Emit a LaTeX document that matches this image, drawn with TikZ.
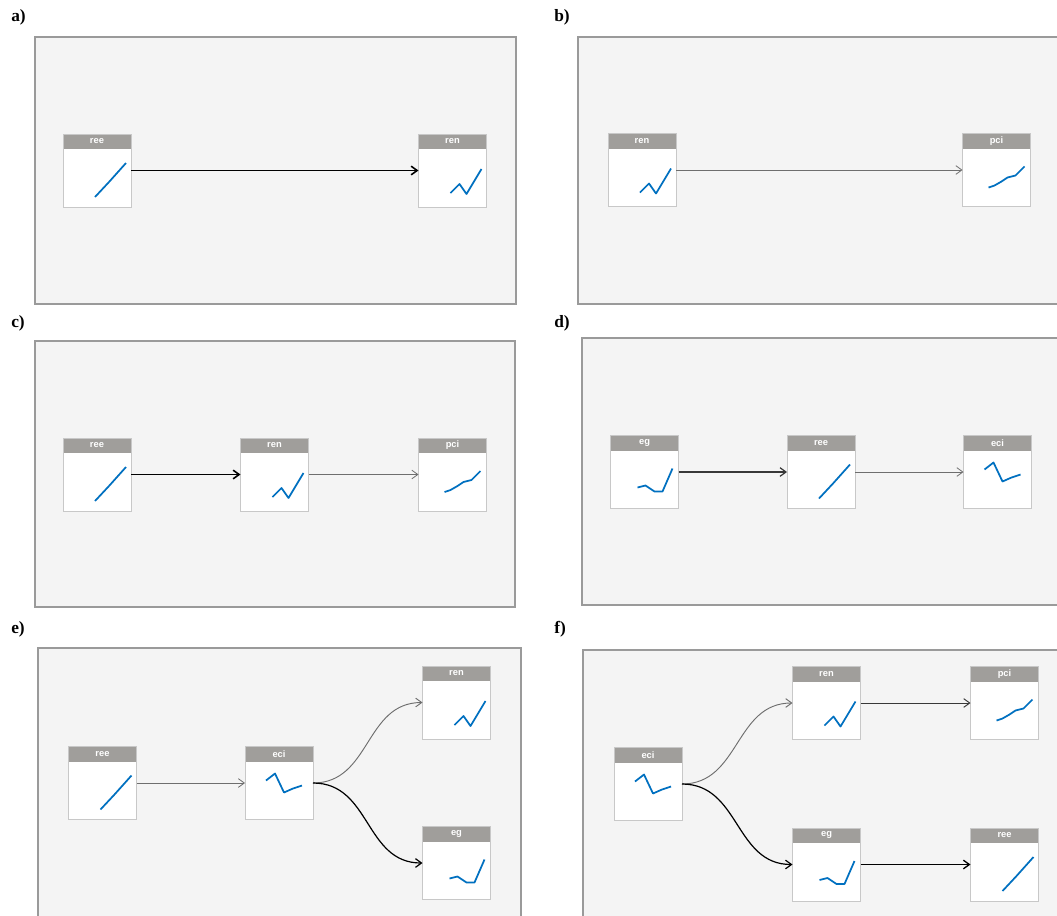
\documentclass[tikz,border=0pt]{standalone}
\usepackage{fontspec}
\setmainfont{Liberation Serif}
\newfontfamily\hdrfont{Liberation Sans}
\usetikzlibrary{arrows.meta}
\definecolor{panelbg}{HTML}{F4F4F4}
\definecolor{panelln}{HTML}{9A9A9A}
\definecolor{hdrgray}{HTML}{A09E9B}
\definecolor{boxln}{HTML}{C8C8C8}
\definecolor{sparkblue}{HTML}{0070C0}
\definecolor{lightarr}{HTML}{6E6E6E}
\definecolor{darkarr}{HTML}{383838}
\tikzset{
  panel/.style={fill=panelbg,draw=panelln,line width=0.8pt},
  plabel/.style={anchor=west,inner sep=0pt,font=\bfseries\fontsize{13}{14}\selectfont},
  vbox/.style={rectangle,fill=white,draw=none,minimum width=51pt,minimum height=54.75pt,inner sep=0pt,outer sep=0pt},
  hdrtxt/.style={inner sep=0pt,text=white,font=\hdrfont\bfseries\fontsize{7}{8}\selectfont},
  spark/.style={draw=sparkblue,line width=1.3pt,line join=round},
  tip/.style={-{Straight Barb[length=4.5pt,width=6.5pt]}},
  lightedge/.style={tip,draw=lightarr,line width=0.6pt},
  darkedge/.style={tip,draw=darkarr,line width=0.7pt},
  boldedge/.style={tip,draw=black,line width=1.2pt},
  sree/.pic={\draw[spark] (32,63)--(46,48)--(63,29);},
  sren/.pic={\draw[spark] (32,59)--(41,50)--(48,60)--(63,35);},
  spci/.pic={\draw[spark] (26,54)--(32,52)--(39,48)--(45,44)--(53,42)--(62,33);},
  seg/.pic={\draw[spark] (27,52)--(35,50)--(44,56)--(52,56)--(62,33);},
  seci/.pic={\draw[spark] (21,34)--(30,27)--(39,46)--(48,42)--(57,39);},
}
\newcommand\vnode[5]{%
  \node[vbox] (#1) at (#2,#3) {};
  \fill[hdrgray] (#1.north west) rectangle ([yshift=-11.25pt]#1.north east);
  \node[hdrtxt] at ([yshift=-5.4pt]#1.north) {#4};
  \draw[boxln,line width=0.7pt] (#1.north west) rectangle (#1.south east);
  \pic at (#1.north west) {#5};
}
\begin{document}
\begin{tikzpicture}[x=0.75pt,y=-0.75pt]
\clip (0,0) rectangle (1057,915);
\fill[white] (0,0) rectangle (1057,915);
% panels
\draw[panel] (35,37) rectangle (516,304);
\draw[panel] (578,37) rectangle (1075,304);
\draw[panel] (35,341) rectangle (515,607);
\draw[panel] (582,338) rectangle (1075,605);
\draw[panel] (38,648) rectangle (521,935);
\draw[panel] (583,650) rectangle (1075,935);
% labels
\node[plabel] (la) at (11,17) {a)};
\node[plabel] (lb) at (554,17) {b)};
\node[plabel] (lc) at (11,323) {c)};
\node[plabel] (ld) at (554,323) {d)};
\node[plabel] (le) at (11,629) {e)};
\node[plabel] (lf) at (554,629) {f)};
% a
\vnode{aree}{97}{170.5}{ree}{sree}
\vnode{aren}{452.5}{170.5}{ren}{sren}
\draw[boldedge] (aree.east) -- (aren.west);
% b
\vnode{bren}{642}{170}{ren}{sren}
\vnode{bpci}{996.5}{170}{pci}{spci}
\draw[lightedge] (bren.east) -- (bpci.west);
% c
\vnode{cree}{97}{474.5}{ree}{sree}
\vnode{cren}{274.5}{474.5}{ren}{sren}
\vnode{cpci}{452.5}{474.5}{pci}{spci}
\draw[boldedge] (cree.east) -- (cren.west);
\draw[lightedge] (cren.east) -- (cpci.west);
% d
\vnode{deg}{644.5}{472}{eg}{seg}
\vnode{dree}{821}{472}{ree}{sree}
\vnode{deci}{997.5}{472}{eci}{seci}
\draw[darkedge,line width=0.9pt] (deg.east) -- (dree.west);
\draw[lightedge] (dree.east) -- (deci.west);
% e
\vnode{eree}{102.5}{783}{ree}{sree}
\vnode{eeci}{279}{783}{eci}{seci}
\vnode{eren}{456.5}{702.5}{ren}{sren}
\vnode{eeg}{456.5}{863}{eg}{seg}
\draw[lightedge] (eree.east) -- (eeci.west);
\draw[lightedge,line width=0.7pt] (eeci.east) .. controls +(58,0) and +(-58,0) .. (eren.west);
\draw[darkedge,draw=black,line width=0.9pt] (eeci.east) .. controls +(58,0) and +(-58,0) .. (eeg.west);
% f
\vnode{feci}{648}{784}{eci}{seci}
\vnode{fren}{826.5}{703}{ren}{sren}
\vnode{fpci}{1004.5}{703}{pci}{spci}
\vnode{feg}{826.5}{864.5}{eg}{seg}
\vnode{free}{1004.5}{864.5}{ree}{sree}
\draw[lightedge,line width=0.7pt] (feci.east) .. controls +(58,0) and +(-58,0) .. (fren.west);
\draw[darkedge,draw=black,line width=0.9pt] (feci.east) .. controls +(58,0) and +(-58,0) .. (feg.west);
\draw[darkedge] (fren.east) -- (fpci.west);
\draw[boldedge,line width=1pt] (feg.east) -- (free.west);
\end{tikzpicture}
\end{document}
